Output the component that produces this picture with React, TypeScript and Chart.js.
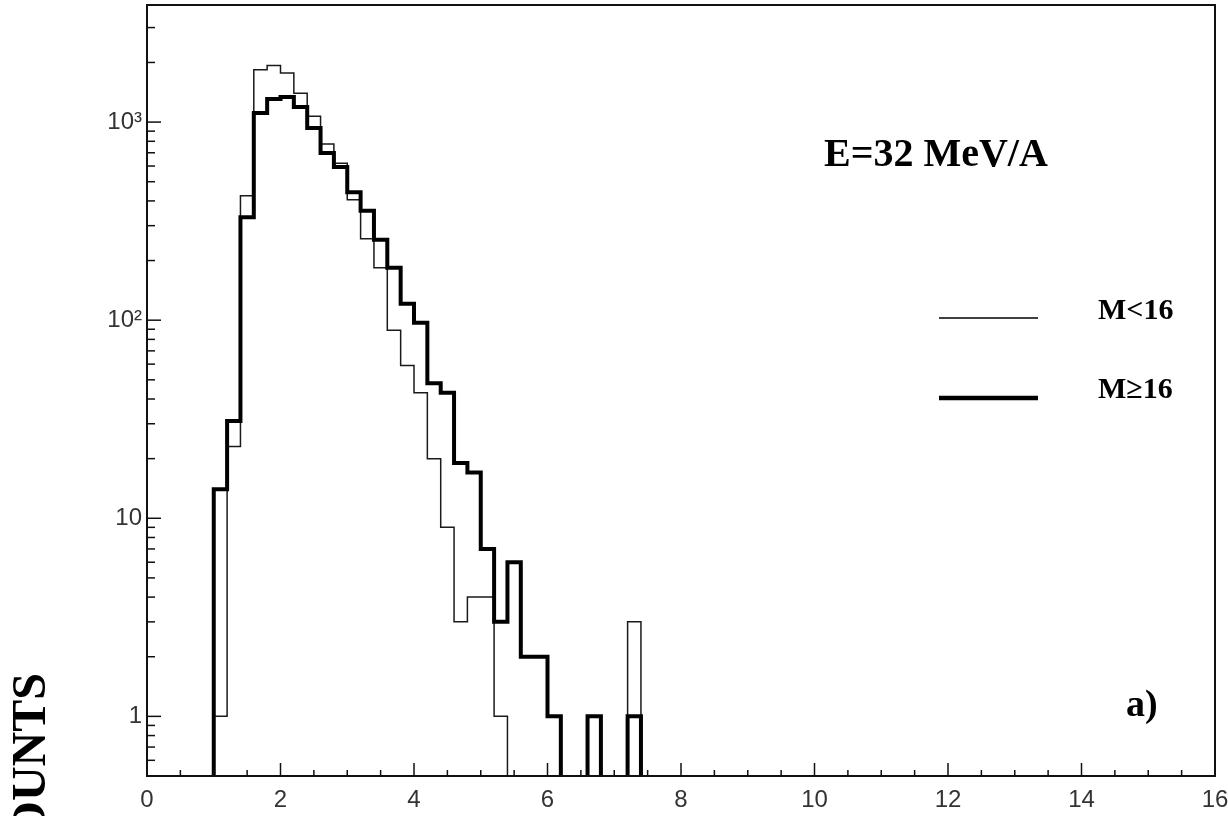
import React, { useEffect, useRef } from "react";
import { Chart, registerables } from "chart.js";

Chart.register(...registerables);

// Bin edges (x) of the histogram, bin width 0.2
const binEdges = [
  1.0, 1.2, 1.4, 1.6, 1.8, 2.0, 2.2, 2.4, 2.6, 2.8, 3.0, 3.2, 3.4, 3.6, 3.8, 4.0,
  4.2, 4.4, 4.6, 4.8, 5.0, 5.2, 5.4, 5.6, 5.8, 6.0, 6.2, 6.4, 6.6, 6.8, 7.0, 7.2, 7.4,
];

// M<16 (thin line) counts per bin
const countsLow = [
  1, 23, 425, 1840, 1930, 1770, 1400, 1070, 775, 620, 405, 258, 184, 89, 59, 43,
  20, 9, 3, 4, 4, 1, 0, 0, 0, 0, 0, 0, 0, 0, 0, 3,
];

// M>=16 (thick line) counts per bin
const countsHigh = [
  14, 31, 331, 1110, 1306, 1340, 1190, 933, 698, 593, 443, 357, 255, 184, 121, 97,
  48, 43, 19, 17, 7, 3, 6, 2, 2, 1, 0, 0, 1, 0, 0, 1,
];

const yTickValues = [1, 10, 100, 1000];
const yTickLabels = ["1", "10", "10³", "10³"];
yTickLabels[2] = "10²";

const xMin = 0;
const xMax = 16;
const yMin = 0.5;
const yMax = 3900;

const annotationTitle = "E=32 MeV/A";
const legendLow = "M<16";
const legendHigh = "M≥16";
const panelLabel = "a)";
const yAxisTitle = "COUNTS";

function stepPoints(counts: number[]) {
  const floor = 0.05;
  const pts: { x: number; y: number }[] = [{ x: binEdges[0], y: floor }];
  counts.forEach((c, i) => pts.push({ x: binEdges[i], y: c > 0 ? c : floor }));
  pts.push({ x: binEdges[counts.length], y: floor });
  return pts;
}

const framePlugin = {
  id: "frameAndText",
  afterDraw(chart: any) {
    const { ctx, chartArea: ca, scales } = chart;
    const x = scales.x;
    const y = scales.y;
    ctx.save();
    ctx.strokeStyle = "#111";
    ctx.lineWidth = 2;
    ctx.strokeRect(ca.left, ca.top, ca.right - ca.left, ca.bottom - ca.top);

    // inward x ticks
    ctx.lineWidth = 1.5;
    for (let v = xMin; v <= xMax + 1e-9; v += 0.5) {
      const px = x.getPixelForValue(v);
      const isMajor = Math.abs(v % 2) < 1e-9;
      const len = isMajor ? 13 : 6;
      ctx.beginPath();
      ctx.moveTo(px, ca.bottom);
      ctx.lineTo(px, ca.bottom - len);
      ctx.stroke();
    }
    // inward y ticks (log)
    for (const dec of [0.1, 1, 10, 100, 1000]) {
      for (let m = 1; m <= 9; m++) {
        const v = dec * m;
        if (v < yMin - 1e-9 || v > yMax) continue;
        const py = y.getPixelForValue(v);
        const len = m === 1 ? 14 : 8;
        ctx.beginPath();
        ctx.moveTo(ca.left, py);
        ctx.lineTo(ca.left + len, py);
        ctx.stroke();
      }
    }

    // legend lines
    ctx.strokeStyle = "#000";
    ctx.lineWidth = 1.5;
    ctx.beginPath();
    ctx.moveTo(939, 318);
    ctx.lineTo(1038, 318);
    ctx.stroke();
    ctx.lineWidth = 4.5;
    ctx.beginPath();
    ctx.moveTo(939, 398);
    ctx.lineTo(1038, 398);
    ctx.stroke();

    // texts
    ctx.fillStyle = "#000";
    ctx.textBaseline = "alphabetic";
    ctx.textAlign = "left";
    ctx.font = "bold 40px 'Liberation Serif', 'Times New Roman', serif";
    ctx.fillText(annotationTitle, 824, 166);
    ctx.font = "bold 30px 'Liberation Serif', 'Times New Roman', serif";
    ctx.fillText(legendLow, 1098, 319);
    ctx.fillText(legendHigh, 1098, 398);
    ctx.font = "bold 38px 'Liberation Serif', 'Times New Roman', serif";
    ctx.fillText(panelLabel, 1126, 716);

    // rotated y-axis title
    ctx.save();
    ctx.translate(45, 673);
    ctx.rotate(-Math.PI / 2);
    ctx.textAlign = "right";
    ctx.font = "bold 48px 'Liberation Serif', 'Times New Roman', serif";
    ctx.fillText(yAxisTitle, 0, 0);
    ctx.restore();

    ctx.restore();
  },
};

const zeroPad = (s: any) => {
  s.paddingLeft = 0;
  s.paddingRight = 0;
  s.paddingTop = 0;
  s.paddingBottom = 0;
};

export default function App() {
  const canvasRef = useRef<HTMLCanvasElement | null>(null);

  useEffect(() => {
    if (!canvasRef.current) return;
    const chart = new Chart(canvasRef.current, {
      type: "line",
      data: {
        datasets: [
          {
            label: legendLow,
            data: stepPoints(countsLow),
            borderColor: "#1a1a1a",
            borderWidth: 1.5,
            stepped: "before",
            pointRadius: 0,
            fill: false,
            order: 1,
          },
          {
            label: legendHigh,
            data: stepPoints(countsHigh),
            borderColor: "#000",
            borderWidth: 4,
            stepped: "before",
            pointRadius: 0,
            fill: false,
            order: 0,
          },
        ],
      },
      options: {
        responsive: false,
        animation: false,
        layout: { padding: { top: 5, right: 13, left: 0, bottom: 0 } },
        plugins: {
          legend: { display: false },
          tooltip: { enabled: false },
        },
        scales: {
          x: {
            type: "linear",
            min: xMin,
            max: xMax,
            grid: { display: false, drawTicks: false },
            border: { display: false },
            ticks: {
              stepSize: 2,
              padding: 10,
              color: "#333",
              font: { family: "'Liberation Sans', Arial, sans-serif", size: 24 },
              maxRotation: 0,
            },
            afterFit: (s: any) => {
              s.height = 40;
              zeroPad(s);
            },
          },
          y: {
            type: "logarithmic",
            min: yMin,
            max: yMax,
            grid: { display: false, drawTicks: false },
            border: { display: false },
            afterBuildTicks: (axis: any) => {
              axis.ticks = yTickValues.map((v) => ({ value: v }));
            },
            ticks: {
              padding: 5,
              color: "#333",
              font: { family: "'Liberation Sans', Arial, sans-serif", size: 24 },
              callback: (value: any) => {
                const i = yTickValues.indexOf(Number(value));
                return i >= 0 ? yTickLabels[i] : "";
              },
            },
            afterFit: (s: any) => {
              s.width = 147;
              zeroPad(s);
            },
          },
        },
      },
      plugins: [framePlugin],
    });
    return () => chart.destroy();
  }, []);

  return (
    <div style={{ position: "fixed", left: 0, top: 0, width: 1228, height: 816, background: "#fff" }}>
      <canvas ref={canvasRef} width={1228} height={816} style={{ display: "block" }} />
    </div>
  );
}
